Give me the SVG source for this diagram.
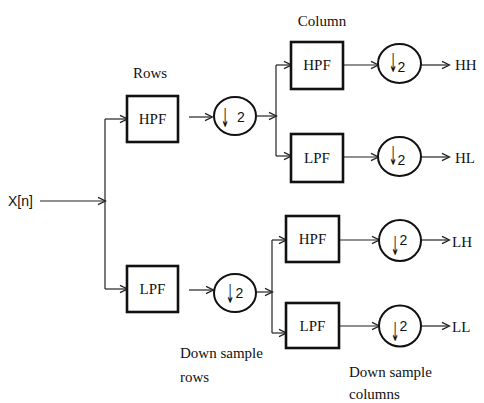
<svg xmlns="http://www.w3.org/2000/svg" width="484" height="403" viewBox="0 0 484 403">
<defs>
<marker id="ah" markerWidth="10" markerHeight="10" refX="8" refY="5" orient="auto" markerUnits="userSpaceOnUse">
<path d="M1,1.3 L8.5,5 L1,8.7" fill="none" stroke="#222" stroke-width="1.3"/>
</marker>
<style>
.box{fill:#fff;stroke:#111;stroke-width:2.6}
.cir{fill:#fff;stroke:#111;stroke-width:2}
.ln{fill:none;stroke:#222;stroke-width:1.2}
.ar{fill:none;stroke:#222;stroke-width:1.2;marker-end:url(#ah)}
.t{font-family:"Liberation Serif",serif;font-size:15px;fill:#111}
.lbl{font-family:"Liberation Serif",serif;font-size:15px;fill:#111}
.dg{font-family:"Liberation Sans",sans-serif;font-size:14px;fill:#111}
.dn{font-family:"DejaVu Sans",sans-serif;font-size:26px;fill:#111}
.x{font-family:"Liberation Sans",sans-serif;font-size:14px;fill:#111}
</style>
</defs>
<rect width="484" height="403" fill="#fff"/>
<g id="connectors">
<path class="ar" d="M40,201 H105"/>
<path class="ln" d="M105,119 V289"/>
<path class="ar" d="M105,119 H127"/>
<path class="ar" d="M105,289 H127"/>
<path class="ar" d="M189,117 H212"/>
<path class="ar" d="M256,116 H276"/>
<path class="ln" d="M276,65 V156"/>
<path class="ar" d="M276,65 H291"/>
<path class="ar" d="M276,156 H291"/>
<path class="ar" d="M343,65 H378"/>
<path class="ar" d="M421,65 H449"/>
<path class="ar" d="M343,157 H378"/>
<path class="ar" d="M421,157 H449"/>
<path class="ar" d="M189,290 H213"/>
<path class="ar" d="M256,292 H272"/>
<path class="ln" d="M272,240 V333"/>
<path class="ar" d="M272,240 H286"/>
<path class="ar" d="M272,333 H286"/>
<path class="ar" d="M339,240 H379"/>
<path class="ar" d="M421,240 H449"/>
<path class="ar" d="M339,326 H379"/>
<path class="ar" d="M421,326 H449"/>
</g>
<g id="input"><text class="x" x="8" y="206">X[n]</text></g>
<g id="rows-label"><text class="lbl" x="150" y="78" text-anchor="middle">Rows</text></g>
<g id="column-label"><text class="lbl" x="322" y="26" text-anchor="middle">Column</text></g>
<g id="row-hpf"><rect class="box" x="127" y="96" width="51" height="46"/><text class="t" x="152.5" y="124" text-anchor="middle">HPF</text></g>
<g id="row-lpf"><rect class="box" x="127" y="266" width="51" height="46"/><text class="t" x="152.5" y="294" text-anchor="middle">LPF</text></g>
<g id="ds-row-h"><ellipse class="cir" cx="235" cy="116" rx="21" ry="19"/><text class="dn" transform="translate(225,127) scale(0.4,1)" text-anchor="middle">↓</text><text class="dg" x="237" y="122">2</text></g>
<g id="ds-row-l"><ellipse class="cir" cx="235" cy="293" rx="21" ry="19"/><text class="dn" transform="translate(230,303) scale(0.4,1)" text-anchor="middle">↓</text><text class="dg" x="235.5" y="298">2</text></g>
<g id="col-hpf-1"><rect class="box" x="291" y="42" width="52" height="47"/><text class="t" x="317" y="70" text-anchor="middle">HPF</text></g>
<g id="col-lpf-1"><rect class="box" x="291" y="134" width="52" height="48"/><text class="t" x="317" y="163" text-anchor="middle">LPF</text></g>
<g id="ds-hh"><ellipse class="cir" cx="399.5" cy="63.5" rx="21.5" ry="19.5"/><text class="dn" transform="translate(393,72) scale(0.4,1)" text-anchor="middle">↓</text><text class="dg" x="397.5" y="72" font-size="17">2</text></g>
<g id="ds-hl"><ellipse class="cir" cx="399.5" cy="156.5" rx="21.5" ry="19.5"/><text class="dn" transform="translate(393,165) scale(0.4,1)" text-anchor="middle">↓</text><text class="dg" x="397.5" y="165" font-size="17">2</text></g>
<g id="hh"><text class="t" x="455" y="70">HH</text></g>
<g id="hl"><text class="t" x="455" y="163">HL</text></g>
<g id="col-hpf-2"><rect class="box" x="286" y="216" width="53" height="46"/><text class="t" x="312.5" y="244" text-anchor="middle">HPF</text></g>
<g id="col-lpf-2"><rect class="box" x="286" y="303" width="53" height="45"/><text class="t" x="312.5" y="331" text-anchor="middle">LPF</text></g>
<g id="ds-lh"><ellipse class="cir" cx="400" cy="240.5" rx="21" ry="20.5"/><text class="dn" transform="translate(395,255) scale(0.4,1)" text-anchor="middle">↓</text><text class="dg" x="399.5" y="245">2</text></g>
<g id="ds-ll"><ellipse class="cir" cx="400" cy="326" rx="21" ry="20.5"/><text class="dn" transform="translate(395,340.5) scale(0.4,1)" text-anchor="middle">↓</text><text class="dg" x="399.5" y="330.5">2</text></g>
<g id="lh"><text class="t" x="452" y="247">LH</text></g>
<g id="ll"><text class="t" x="452" y="332">LL</text></g>
<g id="ds-rows-label"><text class="lbl" x="180" y="358">Down sample</text><text class="lbl" x="180" y="382">rows</text></g>
<g id="ds-cols-label"><text class="lbl" x="349" y="377">Down sample</text><text class="lbl" x="349" y="399">columns</text></g>
</svg>
